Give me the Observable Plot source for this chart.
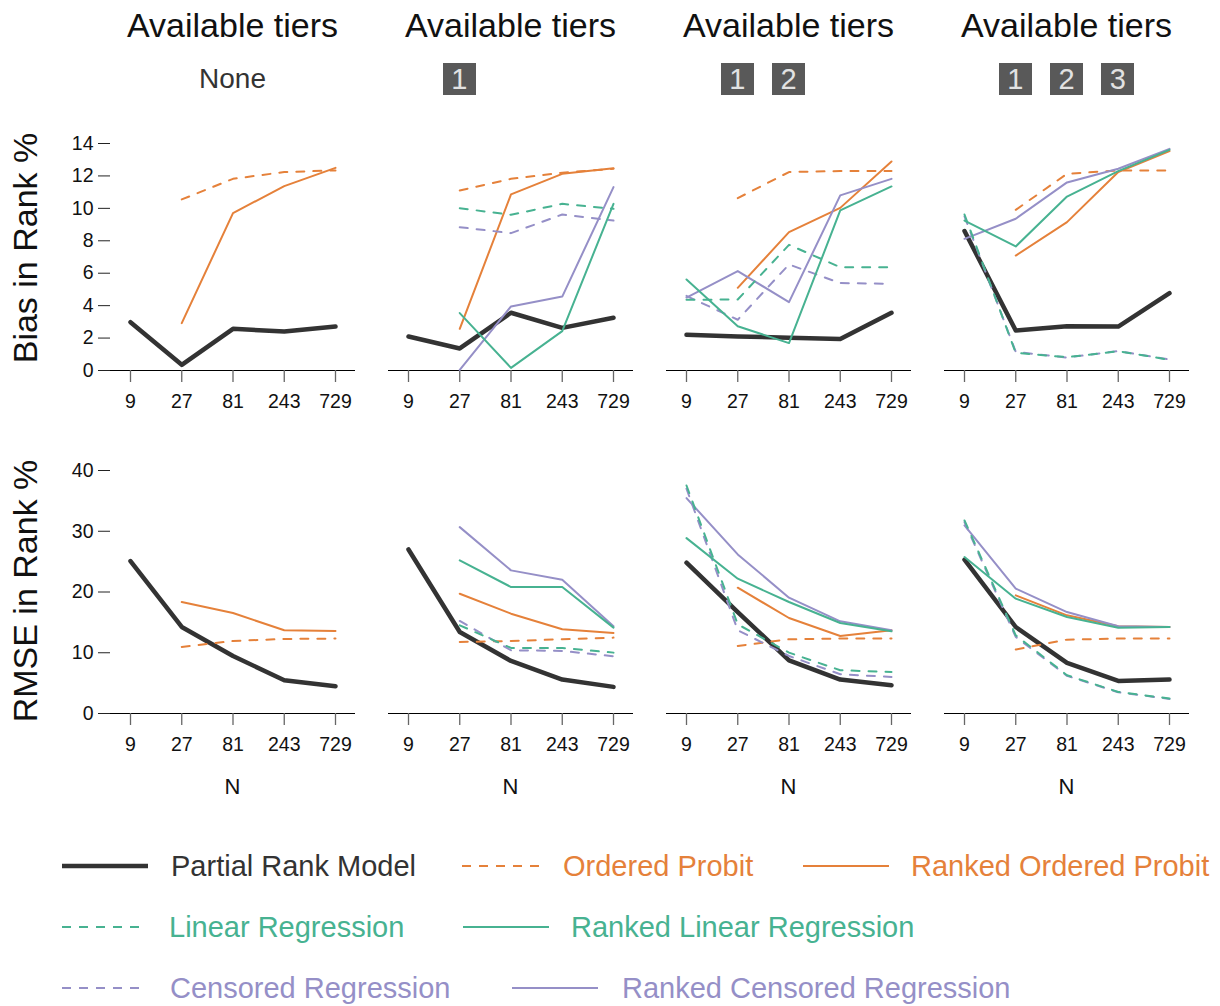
<!DOCTYPE html>
<html><head><meta charset="utf-8">
<script src="https://cdn.jsdelivr.net/npm/d3@7"></script>
<script src="https://cdn.jsdelivr.net/npm/@observablehq/plot@0.6"></script>
<style>
body{margin:0;background:#fff;}
#root{position:relative;width:1220px;height:1006px;overflow:hidden;font-family:"Liberation Sans",Arial,sans-serif;color:#111;background:#fff;}
.abs{position:absolute;white-space:nowrap;line-height:1;}
.badge{position:absolute;width:33px;height:32px;background:#595959;color:#e2e2e2;font-size:29px;line-height:32px;text-align:center;}
</style></head><body><div id="root"></div>
<script>
// ---------- data ----------
const N = [9, 27, 81, 243, 729];
const methods = ["prm", "op", "rop", "lr", "rlr", "cr", "rcr"];
const methodLabels = ["Partial Rank Model", "Ordered Probit", "Ranked Ordered Probit", "Linear Regression", "Ranked Linear Regression", "Censored Regression", "Ranked Censored Regression"];
const methodColors = ["#333333", "#E5813A", "#E5813A", "#47B291", "#47B291", "#958FC7", "#958FC7"];
const methodDashed = [false, true, false, true, false, true, false];
const methodWidths = [4.5, 2, 2, 2, 2, 2, 2];
const drawOrder = ["prm", "op", "rop", "cr", "rcr", "lr", "rlr"];
const tierTitle = "Available tiers";
const noTierLabel = "None";
const tierBadges = [[], [1], [1, 2], [1, 2, 3]];
const biasTicks = [0, 2, 4, 6, 8, 10, 12, 14];
const rmseTicks = [0, 10, 20, 30, 40];
const rowTitles = ["Bias in Rank %", "RMSE in Rank %"];
const xTitle = "N";

// Bias in Rank %, one object per tier panel
const bias0 = {prm: [2.98, 0.35, 2.57, 2.41, 2.71], op: [null, 10.55, 11.82, 12.24, 12.34], rop: [null, 2.92, 9.71, 11.37, 12.5]};
const bias1 = {prm: [2.10, 1.36, 3.56, 2.63, 3.25], op: [null, 11.1, 11.82, 12.2, 12.44], rop: [null, 2.57, 10.86, 12.13, 12.48],
  lr: [null, 10.01, 9.6, 10.28, 9.97], rlr: [null, 3.54, 0.16, 2.43, 10.28], cr: [null, 8.84, 8.47, 9.62, 9.25], rcr: [null, 0.04, 3.95, 4.56, 11.31]};
const bias2 = {prm: [2.2, 2.10, 2.02, 1.95, 3.56], op: [null, 10.63, 12.24, 12.3, 12.3], rop: [null, 5.1, 8.53, 10.03, 12.89],
  lr: [4.36, 4.38, 7.75, 6.37, 6.37], rlr: [5.61, 2.73, 1.69, 9.87, 11.35], cr: [4.6, 3.13, 6.54, 5.39, 5.35], rcr: [4.5, 6.13, 4.22, 10.8, 11.82]};
const bias3 = {prm: [8.6, 2.47, 2.73, 2.71, 4.77], op: [null, 9.91, 12.13, 12.34, 12.34], rop: [null, 7.09, 9.15, 12.24, 13.53],
  lr: [9.62, 1.09, 0.82, 1.19, 0.66], rlr: [9.25, 7.65, 10.73, 12.3, 13.61], cr: [9.5, 1.15, 0.8, 1.2, 0.68], rcr: [8.12, 9.36, 11.6, 12.44, 13.67]};
// RMSE in Rank %
const rmse0 = {prm: [25.09, 14.24, 9.47, 5.47, 4.49], op: [null, 10.96, 11.94, 12.27, 12.33], rop: [null, 18.35, 16.54, 13.7, 13.58]};
const rmse1 = {prm: [27.0, 13.42, 8.65, 5.58, 4.38], op: [null, 11.77, 11.94, 12.22, 12.49], rop: [null, 19.72, 16.43, 13.86, 13.26],
  lr: [null, 14.52, 10.79, 10.79, 10.02], rlr: [null, 25.2, 20.82, 20.82, 14.14], cr: [null, 15.23, 10.41, 10.3, 9.42], rcr: [null, 30.68, 23.56, 22.03, 14.35]};
const rmse2 = {prm: [24.82, 16.7, 8.76, 5.58, 4.65], op: [null, 11.12, 12.22, 12.33, 12.33], rop: [null, 20.71, 15.72, 12.76, 13.69],
  lr: [37.53, 14.68, 10.02, 7.12, 6.84], rlr: [28.87, 22.19, 18.35, 14.9, 13.53], cr: [37.0, 13.7, 9.47, 6.46, 6.02], rcr: [35.45, 26.19, 19.07, 15.17, 13.69]};
const rmse3 = {prm: [25.32, 14.24, 8.32, 5.36, 5.58], op: [null, 10.52, 12.16, 12.33, 12.33], rop: [null, 19.45, 16.16, 14.35, 14.24],
  lr: [31.78, 12.87, 6.3, 3.55, 2.46], rlr: [25.75, 18.9, 15.89, 14.13, 14.24], cr: [31.5, 12.6, 6.2, 3.5, 2.4], rcr: [30.96, 20.55, 16.7, 14.35, 14.24]};

const biasPanels = [bias0, bias1, bias2, bias3];
const rmsePanels = [rmse0, rmse1, rmse2, rmse3];

// ---------- layout ----------
const root = document.getElementById("root");
const FONT = '"Liberation Sans", Arial, sans-serif';
const PANEL_STEP = 278, FRAME0 = 110, FRAME_W = 245;

function addText(txt, cx, cy, size, color, extra = "") {
  const d = document.createElement("div");
  d.className = "abs";
  d.textContent = txt;
  d.style.cssText += `left:${cx}px;top:${cy}px;font-size:${size}px;color:${color};transform:translate(-50%,-50%) ${extra};`;
  root.appendChild(d);
  return d;
}

function makePanel(k, row) {
  const isBias = row === 0;
  const data = isBias ? biasPanels[k] : rmsePanels[k];
  const ML = k === 0 ? 110 : 10, MR = 12;
  const frameLeft = FRAME0 + PANEL_STEP * k;
  const svgTop = isBias ? 100 : 440;
  const H = 320;
  const mt = isBias ? 43 : 30;
  const mb = isBias ? 50 : 47;
  const ticks = isBias ? biasTicks : rmseTicks;
  const marks = [];
  marks.push(Plot.ruleY([0], {stroke: "#000", strokeWidth: 1.2, insetLeft: k === 0 ? -12 : 0}));
  if (k === 0) marks.push(Plot.axisY(ticks, {tickSize: 12, tickPadding: 5, fontSize: 19.5, stroke: "#222", fill: "#111", label: null}));
  marks.push(Plot.axisX(N, {tickSize: 12, tickPadding: 12, fontSize: 19.5, stroke: "#666", strokeWidth: 1.3, fill: "#111", label: null, tickFormat: d => String(d)}));
  for (const m of drawOrder) {
    const vals = data[m];
    if (!vals) continue;
    const i = methods.indexOf(m);
    const rows = N.map((n, j) => ({N: n, v: vals[j]})).filter(d => d.v != null);
    marks.push(Plot.line(rows, {
      x: "N", y: "v", stroke: methodColors[i], strokeWidth: methodWidths[i],
      strokeDasharray: methodDashed[i] ? "8,9" : null, strokeLinejoin: "round", strokeLinecap: "round"
    }));
  }
  const chart = Plot.plot({
    width: ML + FRAME_W + MR, height: H,
    marginLeft: ML, marginRight: MR, marginTop: mt, marginBottom: mb,
    x: {type: "log", base: 3, domain: [9, 729], range: [ML + 20, ML + 225], axis: null},
    y: {domain: [0, ticks[ticks.length - 1]], axis: null},
    style: {fontFamily: FONT, fontSize: "19.5px", color: "#111", background: "transparent", overflow: "visible"},
    marks
  });
  const left = frameLeft - ML;
  chart.style.position = "absolute";
  chart.style.left = left + "px";
  chart.style.top = svgTop + "px";
  root.appendChild(chart);
  return {chart, left, frameLeft};
}

for (let row = 0; row < 2; row++) {
  for (let k = 0; k < 4; k++) {
    const {chart, left, frameLeft} = makePanel(k, row);
    const sx = chart.scale("x");
    const cx = (sx.apply(9) + sx.apply(729)) / 2 + left;
    if (row === 0) {
      addText(tierTitle, cx, 25, 34, "#111");
      if (tierBadges[k].length === 0) {
        addText(noTierLabel, cx, 79, 28, "#333");
      } else {
        tierBadges[k].forEach((b, i) => {
          const bx = sx.apply(N[i + 1]) + left;
          const d = document.createElement("div");
          d.className = "badge";
          d.textContent = String(b);
          d.style.left = (bx - 16.5) + "px";
          d.style.top = "63px";
          root.appendChild(d);
        });
      }
    } else {
      addText(xTitle, cx, 787, 22, "#111");
    }
  }
}

addText(rowTitles[0], 25, 248, 34, "#111", "rotate(-90deg)");
addText(rowTitles[1], 25, 591, 34, "#111", "rotate(-90deg)");

// ---------- legend ----------
const legendRows = [
  [{m: "prm", x1: 62, x2: 148, tx: 171}, {m: "op", x1: 462, x2: 540, tx: 563}, {m: "rop", x1: 803, x2: 889, tx: 911}],
  [{m: "lr", x1: 62, x2: 140, tx: 169}, {m: "rlr", x1: 463, x2: 549, tx: 571}],
  [{m: "cr", x1: 62, x2: 140, tx: 170}, {m: "rcr", x1: 512, x2: 598, tx: 622}]
];
const legendY = [866, 927, 988];
const svg = d3.select(root).append("svg")
  .attr("width", 1220).attr("height", 1006)
  .style("position", "absolute").style("left", 0).style("top", 0).style("pointer-events", "none");
legendRows.forEach((items, r) => {
  items.forEach(it => {
    const i = methods.indexOf(it.m);
    svg.append("line")
      .attr("x1", it.x1).attr("x2", it.x2).attr("y1", legendY[r]).attr("y2", legendY[r])
      .attr("stroke", methodColors[i]).attr("stroke-width", methodWidths[i] === 2 ? 2 : 4.5)
      .attr("stroke-dasharray", methodDashed[i] ? "9,8" : null);
    const d = document.createElement("div");
    d.className = "abs";
    d.textContent = methodLabels[i];
    d.style.cssText += `left:${it.tx}px;top:${legendY[r]}px;font-size:29px;color:${methodColors[i]};transform:translate(0,-50%);`;
    root.appendChild(d);
  });
});
</script></body></html>
